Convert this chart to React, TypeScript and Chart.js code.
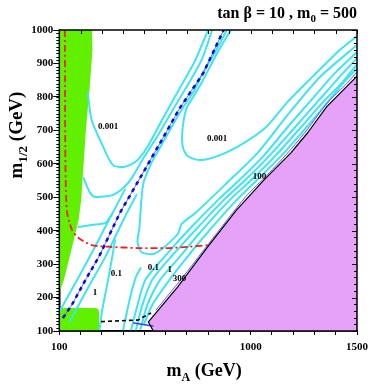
import React, { useEffect, useRef } from "react";
import { Chart, registerables } from "chart.js";

Chart.register(...registerables);

// ---------- axes ----------
const X_MIN = 100;
const X_MAX = 1500;
const Y_MIN = 100;
const Y_MAX = 1000;
const X_LABELED_TICKS = [100, 1000, 1500];

// ---------- filled regions (m_A, m_1/2) ----------
const GREEN_STRIP_MA = [100, 254, 256, 242, 225, 209, 203, 191, 168, 145, 122, 100];
const GREEN_STRIP_M12 = [1000, 1000, 940, 821, 701, 551, 492, 432, 372, 312, 253, 214];

const GREEN_BLOCK_MA = [100, 100, 268, 280, 286, 287, 287];
const GREEN_BLOCK_M12 = [100, 169, 169, 167, 161, 150, 100];

const PINK_MA = [542, 519, 657, 796, 934, 1063, 1188, 1267, 1358, 1450, 1500, 1500];
const PINK_M12 = [100, 127, 232, 350, 462, 552, 632, 692, 771, 830, 862, 100];

const PINK_EDGE_MA = [542, 519, 657, 796, 934, 1063, 1188, 1267, 1358, 1450, 1500];
const PINK_EDGE_M12 = [100, 127, 232, 350, 462, 552, 632, 692, 771, 830, 862];

// ---------- lines ----------
const RED_MA = [126, 127, 128, 130, 137, 160, 191, 252, 329, 468, 606, 713, 799];
const RED_M12 = [1000, 800, 650, 551, 453, 402, 378, 357, 352, 348, 348, 352, 357];

const BLACK_DASH_MA = [296, 473, 486, 532];
const BLACK_DASH_M12 = [128, 133, 139, 154];

const FUNNEL_MA = [117, 159, 228, 288, 385, 482, 574, 667, 777, 873];
const FUNNEL_M12 = [139, 178, 258, 324, 453, 560, 662, 767, 871, 1000];

const BLUE_THIN_MA = [555, 671, 805, 976, 1077, 1190, 1268, 1360, 1455, 1500];
const BLUE_THIN_M12 = [163, 253, 363, 501, 566, 644, 704, 782, 842, 875];

const BLUE_BOTTOM_MA = [450, 540];
const BLUE_BOTTOM_M12 = [124, 115];

// cyan contours
const C1_MA = [234, 252, 299, 352, 407, 463, 514, 588, 662, 736, 800];
const C1_M12 = [811, 731, 661, 596, 591, 608, 650, 737, 821, 905, 1000];

const C2_MA = [214, 245, 268, 353, 407, 440, 496, 565, 639, 713, 773, 819];
const C2_M12 = [557, 513, 501, 507, 531, 557, 617, 686, 767, 845, 916, 1000];

const C3_MA = [191, 251, 316, 348];
const C3_M12 = [411, 417, 423, 450];

const B1_MA = [888, 833, 777, 731, 680, 634, 583, 533, 496, 486, 477, 468, 486, 542, 588, 657, 676, 740, 879, 1036, 1174, 1327, 1500];
const B1_M12 = [1000, 934, 874, 815, 767, 716, 659, 602, 543, 492, 411, 366, 336, 330, 348, 390, 420, 453, 537, 635, 746, 860, 955];

const L1_MA = [907, 856, 805, 764, 727, 699, 680, 680, 703, 764, 856, 967, 1073, 1174, 1294, 1419, 1500];
const L1_M12 = [1000, 946, 886, 836, 797, 767, 707, 653, 623, 611, 626, 662, 710, 785, 862, 940, 982];

const B2_MA = [436, 468, 505, 593, 708, 847, 948, 1064, 1170, 1294, 1396, 1500];
const B2_M12 = [100, 178, 253, 321, 402, 492, 552, 626, 707, 797, 871, 934];

const B3_MA = [459, 491, 537, 620, 736, 874, 976, 1091, 1197, 1318, 1414, 1500];
const B3_M12 = [100, 178, 253, 318, 399, 492, 552, 626, 701, 788, 857, 916];

const B4_MA = [482, 514, 574, 653, 764, 902, 1004, 1119, 1225, 1341, 1433, 1500];
const B4_M12 = [106, 178, 253, 312, 396, 492, 552, 626, 701, 785, 845, 898];

const B5_MA = [500, 537, 611, 690, 791, 930, 1031, 1147, 1239, 1336, 1424, 1500];
const B5_M12 = [124, 178, 247, 312, 390, 489, 552, 626, 692, 764, 833, 886];

const FR_LOW_MA = [149, 191, 256, 316, 413, 463];
const FR_LOW_M12 = [127, 178, 253, 321, 447, 507];

const FL_LOW_MA = [101, 131, 196, 260, 353, 408];
const FL_LOW_M12 = [157, 193, 267, 342, 456, 522];

const D1_MA = [288, 302, 325, 348, 362];
const D1_M12 = [100, 163, 238, 318, 372];

const D2_MA = [399, 417, 436, 459, 482];
const D2_M12 = [100, 154, 208, 259, 288];

// ---------- contour labels ----------
const LABEL_TEXT = ["0.001", "0.001", "100", "0.1", "0.1", "1", "300", "1"];
const LABEL_MA = [330, 842, 1042, 368, 542, 619, 665, 268];
const LABEL_M12 = [710, 676, 561, 270, 289, 284, 255, 215];

// ---------- colours ----------
const GREEN = "#60f000";
const PINK = "#e6a2f8";
const CYAN = "#40e4f0";
const RED = "#ff1a1a";
const BLUE = "#0a0ad8";
const FONT = "'Liberation Serif', 'Times New Roman', serif";

const zip = (xs: number[], ys: number[]) => xs.map((x, i) => ({ x, y: ys[i] }));

function polygon(xs: number[], ys: number[], color: string, order: number) {
  return {
    type: "line" as const,
    data: zip(xs, ys),
    borderColor: "rgba(0,0,0,0)",
    borderWidth: 0,
    backgroundColor: color,
    fill: "shape",
    pointRadius: 0,
    tension: 0,
    order,
  };
}

function curve(xs: number[], ys: number[], color: string, width: number, order: number, extra: any = {}) {
  return {
    type: "line" as const,
    data: zip(xs, ys),
    borderColor: color,
    borderWidth: width,
    fill: false,
    pointRadius: 0,
    tension: 0.25,
    borderJoinStyle: "round",
    borderCapStyle: "round",
    order,
    ...extra,
  };
}

type Part = { t: string; sub?: boolean };

function drawRich(ctx: CanvasRenderingContext2D, parts: Part[], x: number, y: number, size: number, align: "left" | "right" | "center") {
  const subSize = Math.round(size * 0.68);
  const widths = parts.map((p) => {
    ctx.font = `bold ${p.sub ? subSize : size}px ${FONT}`;
    return ctx.measureText(p.t).width;
  });
  const total = widths.reduce((a, b) => a + b, 0);
  let cx = align === "left" ? x : align === "right" ? x - total : x - total / 2;
  ctx.textAlign = "left";
  ctx.textBaseline = "alphabetic";
  parts.forEach((p, i) => {
    ctx.font = `bold ${p.sub ? subSize : size}px ${FONT}`;
    ctx.fillText(p.t, cx, p.sub ? y + size * 0.28 : y);
    cx += widths[i];
  });
}

const decorPlugin = {
  id: "decor",
  afterDraw(chart: any) {
    const { ctx, chartArea: a, scales } = chart;
    const xs = scales.x;
    const ys = scales.y;
    ctx.save();
    ctx.strokeStyle = "#000";
    ctx.fillStyle = "#000";
    // frame
    ctx.lineWidth = 1.5;
    ctx.strokeRect(a.left, a.top, a.right - a.left, a.bottom - a.top);
    // minor y ticks
    ctx.lineWidth = 1;
    ctx.beginPath();
    for (let v = Y_MIN + 10; v < Y_MAX; v += 10) {
      const py = Math.round(ys.getPixelForValue(v)) + 0.5;
      ctx.moveTo(a.left - 3, py);
      ctx.lineTo(a.left, py);
    }
    for (let v = Y_MIN + 20; v < Y_MAX; v += 20) {
      const py = Math.round(ys.getPixelForValue(v)) + 0.5;
      ctx.moveTo(a.right - 3, py);
      ctx.lineTo(a.right, py);
    }
    for (let v = Y_MIN; v <= Y_MAX; v += 100) {
      const py = Math.round(ys.getPixelForValue(v)) + 0.5;
      ctx.moveTo(a.right - 5, py);
      ctx.lineTo(a.right, py);
    }
    for (let v = X_MIN; v <= X_MAX; v += 100) {
      const px = Math.round(xs.getPixelForValue(v)) + 0.5;
      ctx.moveTo(px, a.top);
      ctx.lineTo(px, a.top + 4);
    }
    ctx.stroke();

    // contour labels
    ctx.font = `bold 9px ${FONT}`;
    ctx.textAlign = "center";
    ctx.textBaseline = "middle";
    LABEL_TEXT.forEach((t, i) => {
      ctx.fillText(t, xs.getPixelForValue(LABEL_MA[i]), ys.getPixelForValue(LABEL_M12[i]));
    });

    // title
    drawRich(ctx, [{ t: "tan \u03b2 = 10 , m" }, { t: "0", sub: true }, { t: " = 500" }], a.right, 18, 16, "right");

    // x title
    drawRich(ctx, [{ t: "m" }, { t: "A", sub: true }, { t: " (GeV)" }], (a.left + a.right) / 2 - 4, 376, 18, "center");

    // y title
    ctx.save();
    ctx.translate(22, 135);
    ctx.rotate(-Math.PI / 2);
    drawRich(ctx, [{ t: "m" }, { t: "1/2", sub: true }, { t: " (GeV)" }], 0, 0, 19, "center");
    ctx.restore();

    ctx.restore();
  },
};

export default function App() {
  const ref = useRef<HTMLCanvasElement | null>(null);

  useEffect(() => {
    if (!ref.current) return;
    const datasets: any[] = [
      polygon(PINK_MA, PINK_M12, PINK, 30),
      polygon(GREEN_STRIP_MA, GREEN_STRIP_M12, GREEN, 30),
      polygon(GREEN_BLOCK_MA, GREEN_BLOCK_M12, GREEN, 30),
      curve(C1_MA, C1_M12, CYAN, 2, 10),
      curve(C2_MA, C2_M12, CYAN, 2, 10),
      curve(C3_MA, C3_M12, CYAN, 2, 10),
      curve(B1_MA, B1_M12, CYAN, 2, 10),
      curve(L1_MA, L1_M12, CYAN, 2, 10),
      curve(B2_MA, B2_M12, CYAN, 2, 10),
      curve(B3_MA, B3_M12, CYAN, 2, 10),
      curve(B4_MA, B4_M12, CYAN, 2, 10),
      curve(B5_MA, B5_M12, CYAN, 2, 10),
      curve(FR_LOW_MA, FR_LOW_M12, CYAN, 2, 10),
      curve(FL_LOW_MA, FL_LOW_M12, CYAN, 2, 10),
      curve(D1_MA, D1_M12, CYAN, 2, 10),
      curve(D2_MA, D2_M12, CYAN, 2, 10),
      curve(BLUE_THIN_MA, BLUE_THIN_M12, "#5a5aff", 1, 5),
      curve(BLUE_BOTTOM_MA, BLUE_BOTTOM_M12, "#3a3aff", 1.5, 5),
      curve(FUNNEL_MA, FUNNEL_M12, "#6a6aff", 1, 5, { tension: 0 }),
      curve(FUNNEL_MA, FUNNEL_M12, BLUE, 2.5, 4, { tension: 0, borderDash: [4, 4], borderCapStyle: "butt" }),
      curve(PINK_EDGE_MA, PINK_EDGE_M12, "#000", 1.2, 3, { tension: 0 }),
      curve(BLACK_DASH_MA, BLACK_DASH_M12, "#000", 1.6, 2, { tension: 0, borderDash: [4, 3], borderCapStyle: "butt" }),
      curve(RED_MA, RED_M12, RED, 1.8, 1, { borderDash: [7, 3, 2, 3], borderCapStyle: "butt" }),
    ];

    const chart = new Chart(ref.current, {
      type: "line",
      data: { datasets },
      options: {
        responsive: false,
        animation: false,
        devicePixelRatio: 1,
        events: [],
        layout: { padding: { top: 30, right: 11.5, left: 0, bottom: 0 } },
        plugins: {
          legend: { display: false },
          tooltip: { enabled: false },
          title: { display: false },
        },
        scales: {
          x: {
            type: "linear",
            position: "bottom",
            min: X_MIN,
            max: X_MAX,
            afterFit: (s: any) => {
              s.height = 57;
            },
            ticks: {
              stepSize: 100,
              autoSkip: false,
              maxRotation: 0,
              padding: 6,
              color: "#000",
              font: { family: FONT, size: 11, weight: "bold" },
              callback: (v: any) => (X_LABELED_TICKS.includes(Number(v)) ? String(v) : ""),
            },
            grid: { drawOnChartArea: false, drawTicks: true, tickLength: 4, color: "#000", tickWidth: 1 },
            border: { display: true, color: "#000", width: 1.5 },
          },
          y: {
            type: "linear",
            min: Y_MIN,
            max: Y_MAX,
            afterFit: (s: any) => {
              s.width = 59.3;
            },
            ticks: {
              stepSize: 100,
              padding: 0,
              color: "#000",
              font: { family: FONT, size: 11, weight: "bold" },
              callback: (v: any) => String(v),
            },
            grid: { drawOnChartArea: false, drawTicks: true, tickLength: 6, color: "#000", tickWidth: 1 },
            border: { display: true, color: "#000", width: 1.5 },
          },
        },
      },
      plugins: [decorPlugin],
    } as any);

    return () => chart.destroy();
  }, []);

  return (
    <div style={{ position: "absolute", left: 0, top: 0, width: 374, height: 388, background: "#fff" }}>
      <canvas ref={ref} width={374} height={388} style={{ display: "block", width: 374, height: 388 }} />
    </div>
  );
}
